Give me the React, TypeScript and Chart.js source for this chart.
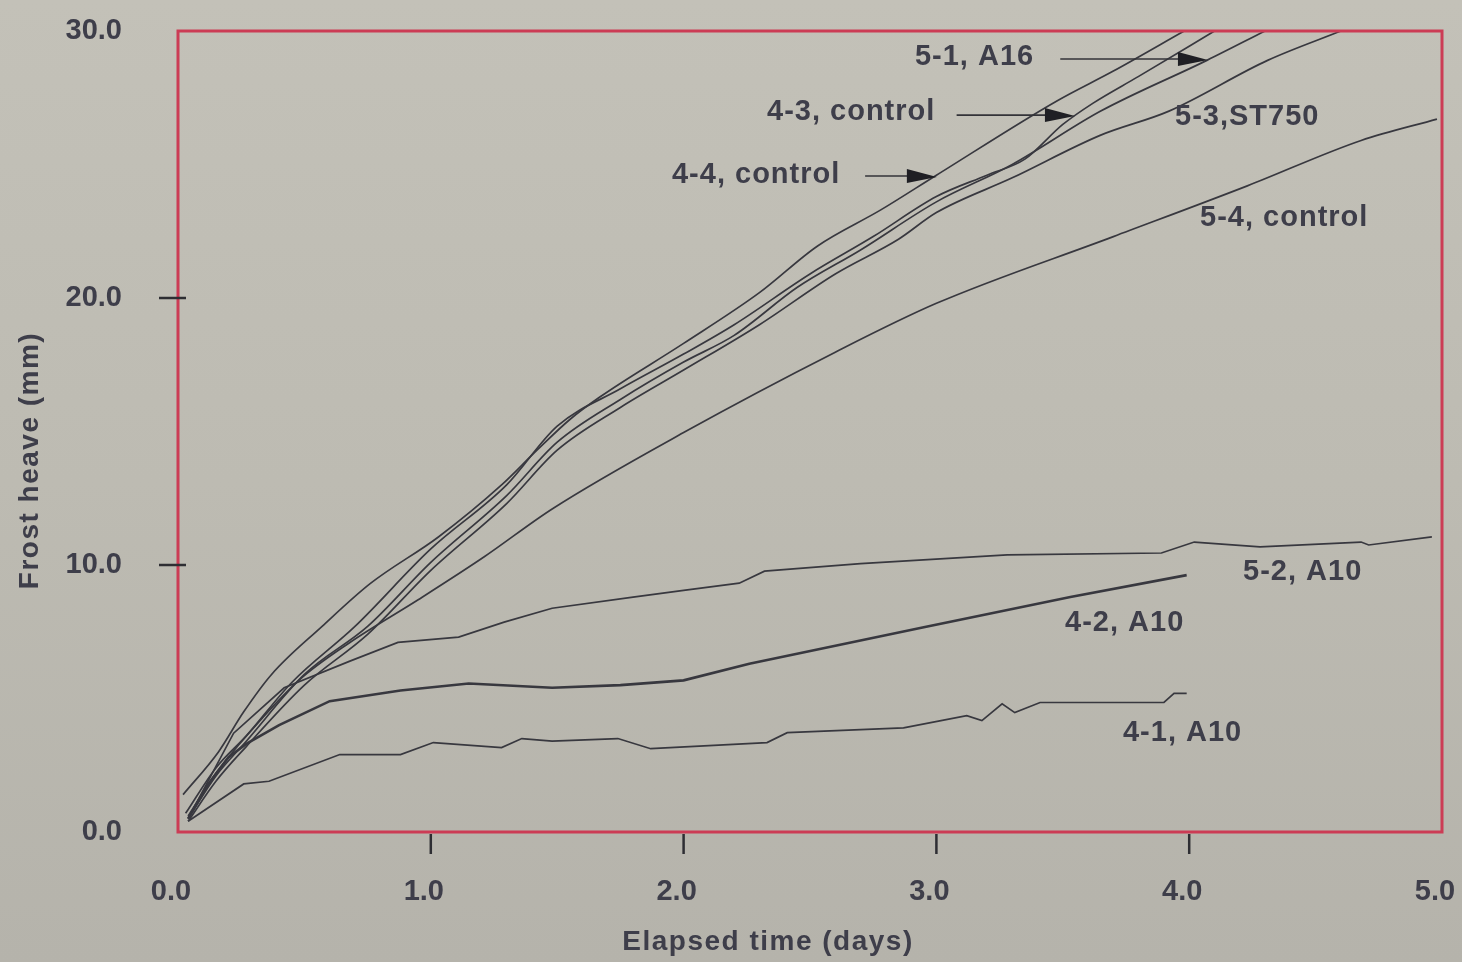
import React, { useEffect, useRef } from 'react';
import { Chart, registerables } from 'chart.js';
Chart.register(...registerables);

// ---- axis ticks ----
const xTickValues = [0, 1, 2, 3, 4, 5];
const xTickLabels = ['0.0', '1.0', '2.0', '3.0', '4.0', '5.0'];
const yTickValues = [0, 10, 20, 30];
const yTickLabels = ['0.0', '10.0', '20.0', '30.0'];
const xTickMarks = [1, 2, 3, 4];
const yTickMarks = [10, 20];

// ---- series (elapsed days, frost heave mm) ----
const s44x = [0.02, 0.16, 0.26, 0.37, 0.57, 0.76, 1.03, 1.28, 1.42, 1.55, 1.67, 2.0, 2.3, 2.53, 2.78, 3.0, 3.48, 3.7, 3.98];
const s44y = [1.4, 3.0, 4.5, 5.9, 7.7, 9.3, 11.05, 13.0, 14.3, 15.45, 16.3, 18.3, 20.2, 21.95, 23.3, 24.6, 27.4, 28.5, 30.0];

const s43x = [0.03, 0.15, 0.27, 0.45, 0.7, 1.0, 1.3, 1.5, 1.75, 2.0, 2.2, 2.5, 2.75, 3.0, 3.2, 3.35, 3.5, 3.62, 3.8, 4.1];
const s43y = [0.7, 2.4, 3.6, 5.6, 7.7, 10.6, 13.0, 15.2, 16.6, 17.9, 19.0, 20.9, 22.3, 23.8, 24.6, 25.2, 26.5, 27.3, 28.3, 30.0];

const s51x = [0.04, 0.15, 0.27, 0.5, 0.75, 1.0, 1.3, 1.5, 1.75, 2.0, 2.2, 2.45, 2.7, 3.0, 3.3, 3.65, 4.07, 4.3];
const s51y = [0.5, 2.1, 3.4, 5.9, 7.7, 10.1, 12.6, 14.6, 16.2, 17.6, 18.6, 20.4, 21.8, 23.6, 25.0, 27.0, 28.9, 30.0];

const s53x = [0.04, 0.15, 0.27, 0.5, 0.75, 1.0, 1.3, 1.5, 1.75, 2.0, 2.3, 2.6, 2.85, 3.0, 3.3, 3.65, 3.92, 4.31, 4.6];
const s53y = [0.4, 1.9, 3.2, 5.5, 7.4, 9.8, 12.3, 14.3, 15.9, 17.3, 19.0, 20.9, 22.2, 23.2, 24.5, 26.1, 27.0, 28.9, 30.0];

const s54x = [0.04, 0.15, 0.28, 0.48, 0.68, 0.95, 1.21, 1.48, 2.0, 2.6, 3.0, 3.7, 4.23, 4.68, 4.98];
const s54y = [0.6, 2.2, 3.7, 5.7, 7.1, 8.7, 10.3, 12.1, 14.96, 17.97, 19.8, 22.3, 24.2, 25.9, 26.7];

const s52x = [0.04, 0.22, 0.42, 0.68, 0.87, 1.11, 1.29, 1.48, 1.8, 2.0, 2.22, 2.32, 2.7, 3.28, 3.89, 4.02, 4.28, 4.68, 4.71, 4.96];
const s52y = [0.5, 3.7, 5.4, 6.4, 7.1, 7.3, 7.86, 8.38, 8.8, 9.05, 9.32, 9.77, 10.05, 10.38, 10.45, 10.86, 10.68, 10.86, 10.75, 11.05];

const s42x = [0.04, 0.12, 0.2, 0.27, 0.4, 0.6, 0.88, 1.15, 1.48, 1.75, 2.0, 2.26, 2.95, 3.53, 3.99];
const s42y = [0.5, 1.8, 2.8, 3.3, 4.0, 4.9, 5.3, 5.56, 5.4, 5.5, 5.68, 6.3, 7.67, 8.8, 9.62];

const s41x = [0.04, 0.26, 0.36, 0.64, 0.88, 1.01, 1.28, 1.36, 1.48, 1.74, 1.87, 2.33, 2.41, 2.87, 3.12, 3.18, 3.26, 3.31, 3.41, 3.9, 3.94, 3.99];
const s41y = [0.4, 1.8, 1.9, 2.9, 2.9, 3.35, 3.16, 3.5, 3.4, 3.5, 3.12, 3.35, 3.72, 3.9, 4.36, 4.17, 4.8, 4.47, 4.85, 4.85, 5.19, 5.19];

const seriesNames = ['4-4, control', '4-3, control', '5-1, A16', '5-3,ST750', '5-4, control', '5-2, A10', '4-2, A10', '4-1, A10'];
const seriesX = [s44x, s43x, s51x, s53x, s54x, s52x, s42x, s41x];
const seriesY = [s44y, s43y, s51y, s53y, s54y, s52y, s42y, s41y];
const smoothSeries = ['4-4, control', '4-3, control', '5-1, A16', '5-3,ST750', '5-4, control'];

// ---- annotation labels (data coordinates of text left edge) ----
const annoLabels = ['5-1, A16', '4-3, control', '4-4, control', '5-3,ST750', '5-4, control', '5-2, A10', '4-2, A10', '4-1, A10'];
const annoX = [2.915, 2.33, 1.954, 3.944, 4.043, 4.213, 3.509, 3.738];
const annoY = [29.03, 26.97, 24.6, 26.78, 23.0, 9.74, 7.83, 3.71];
const arrowFromX = [3.49, 3.08, 2.718];
const arrowToX = [4.074, 3.548, 3.002];
const arrowY = [28.95, 26.85, 24.57];

const xTitle = 'Elapsed time (days)';
const yTitle = 'Frost heave (mm)';

const FONT = '"Liberation Sans", Arial, Helvetica, sans-serif';
const TEXT = '#3e3e4a';
const LINE = '#38383f';
const RED = '#cc3c55';

const overlay = {
  id: 'overlay',
  afterDatasetsDraw(chart: any) {
    const { ctx, chartArea: a, scales } = chart;
    const xs = scales.x;
    const ys = scales.y;
    ctx.save();
    // red frame
    ctx.strokeStyle = RED;
    ctx.lineWidth = 3;
    ctx.strokeRect(a.left, a.top, a.right - a.left, a.bottom - a.top);
    // tick marks
    ctx.strokeStyle = '#2e2e33';
    ctx.lineWidth = 2.5;
    yTickMarks.forEach((v) => {
      const y = ys.getPixelForValue(v);
      ctx.beginPath();
      ctx.moveTo(a.left - 19, y);
      ctx.lineTo(a.left + 8, y);
      ctx.stroke();
    });
    xTickMarks.forEach((v) => {
      const x = xs.getPixelForValue(v);
      ctx.beginPath();
      ctx.moveTo(x, a.bottom + 2);
      ctx.lineTo(x, a.bottom + 22);
      ctx.stroke();
    });
    // annotation labels
    ctx.fillStyle = TEXT;
    ctx.font = `bold 29px ${FONT}`;
    (ctx as any).letterSpacing = '1px';
    ctx.textAlign = 'left';
    ctx.textBaseline = 'middle';
    annoLabels.forEach((t, i) => {
      ctx.fillText(t, xs.getPixelForValue(annoX[i]), ys.getPixelForValue(annoY[i]));
    });
    // arrows
    ctx.strokeStyle = '#333338';
    ctx.fillStyle = '#1f1f24';
    ctx.lineWidth = 1.6;
    arrowFromX.forEach((fx, i) => {
      const x1 = xs.getPixelForValue(fx);
      const x2 = xs.getPixelForValue(arrowToX[i]);
      const y = ys.getPixelForValue(arrowY[i]);
      ctx.beginPath();
      ctx.moveTo(x1, y);
      ctx.lineTo(x2 - 26, y);
      ctx.stroke();
      ctx.beginPath();
      ctx.moveTo(x2, y + 1);
      ctx.lineTo(x2 - 30, y - 7);
      ctx.lineTo(x2 - 30, y + 7);
      ctx.closePath();
      ctx.fill();
    });
    // axis titles
    ctx.fillStyle = TEXT;
    ctx.textAlign = 'center';
    ctx.font = `bold 28px ${FONT}`;
    (ctx as any).letterSpacing = '1.5px';
    ctx.fillText(xTitle, (a.left + a.right) / 2 - 42, a.bottom + 110);
    ctx.save();
    ctx.translate(a.left - 148, (a.top + a.bottom) / 2 + 29);
    ctx.rotate(-Math.PI / 2);
    ctx.fillText(yTitle, 0, 0);
    ctx.restore();
    ctx.restore();
  },
};

const zeroPad = (s: any) => {
  s.paddingTop = 0;
  s.paddingBottom = 0;
  s.paddingLeft = 0;
  s.paddingRight = 0;
};

export default function App() {
  const ref = useRef<HTMLCanvasElement | null>(null);
  useEffect(() => {
    document.body.style.margin = '0';
    const datasets = seriesNames.map((name, i) => ({
      label: name,
      data: seriesX[i].map((x, j) => ({ x, y: seriesY[i][j] })),
      borderColor: LINE,
      borderWidth: name === '4-2, A10' ? 2.6 : 1.7,
      pointRadius: 0,
      tension: 0,
      cubicInterpolationMode: smoothSeries.includes(name) ? 'monotone' : 'default',
      fill: false,
    }));
    const chart = new Chart(ref.current as HTMLCanvasElement, {
      type: 'line',
      data: { datasets } as any,
      plugins: [overlay],
      options: {
        animation: false,
        responsive: false,
        layout: { padding: { top: 31, right: 20, left: 0, bottom: 0 } },
        plugins: { legend: { display: false }, tooltip: { enabled: false } },
        scales: {
          x: {
            type: 'linear',
            min: 0,
            max: 5,
            grid: { display: false },
            border: { display: false },
            afterFit: (s: any) => { s.height = 130; zeroPad(s); },
            afterBuildTicks: (s: any) => { s.ticks = xTickValues.map((v) => ({ value: v })); },
            ticks: {
              autoSkip: false,
              maxRotation: 0,
              padding: 35,
              labelOffset: -7,
              color: TEXT,
              font: { family: FONT, size: 29, weight: 'bold' },
              callback: (v: any) => xTickLabels[xTickValues.indexOf(Number(v))] ?? '',
            },
          },
          y: {
            type: 'linear',
            min: 0,
            max: 30,
            grid: { display: false },
            border: { display: false },
            afterFit: (s: any) => { s.width = 178; zeroPad(s); },
            afterBuildTicks: (s: any) => { s.ticks = yTickValues.map((v) => ({ value: v })); },
            ticks: {
              autoSkip: false,
              padding: 48,
              color: TEXT,
              font: { family: FONT, size: 29, weight: 'bold' },
              callback: (v: any) => yTickLabels[yTickValues.indexOf(Number(v))] ?? '',
            },
          },
        },
      } as any,
    });
    return () => chart.destroy();
  }, []);
  return (
    <div
      style={{
        position: 'fixed',
        left: 0,
        top: 0,
        width: 1462,
        height: 962,
        background: 'linear-gradient(180deg, #c3c1b8 0%, #bdbbb2 50%, #b5b3ab 100%)',
      }}
    >
      <canvas ref={ref} width={1462} height={962} style={{ width: 1462, height: 962, display: 'block' }} />
    </div>
  );
}
